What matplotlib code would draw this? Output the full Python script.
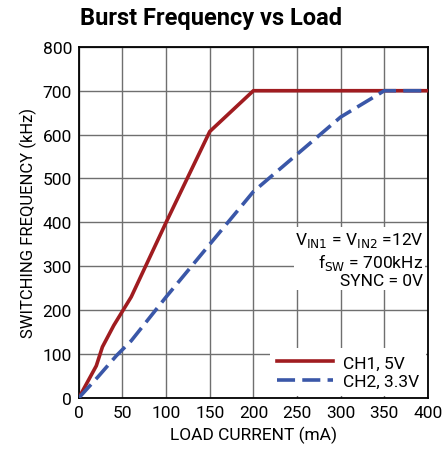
import numpy as np
import matplotlib.pyplot as plt

plt.rcParams['font.family'] = ['Roboto', 'DejaVu Sans']

# data
ch1_x = [0, 20, 27, 40, 60, 100, 150, 200, 400]
ch1_y = [0, 73, 116, 165, 230, 400, 607, 700, 700]
ch2_x = [0, 22, 43, 60, 100, 150, 200, 250, 300, 350, 400]
ch2_y = [0, 48, 96, 130, 230, 350, 470, 555, 640, 700, 700]

red = "#a01c20"
blue = "#3a57a8"

fig = plt.figure(figsize=(4.43, 4.6), dpi=100)
ax = fig.add_axes([0.178, 0.133, 0.788, 0.763])

ax.plot(ch1_x, ch1_y, color=red, lw=2.6, label="CH1, 5V", zorder=3)
ax.plot(ch2_x, ch2_y, color=blue, lw=2.6, dashes=(5, 2), label="CH2, 3.3V", zorder=3)

ax.set_xlim(0, 400)
ax.set_ylim(0, 800)
ax.set_xticks(np.arange(0, 401, 50))
ax.set_yticks(np.arange(0, 801, 100))
ax.grid(True, color="#6f6f6f", lw=1)
ax.tick_params(length=0, labelsize=12.5, pad=5)
for s in ax.spines.values():
    s.set_linewidth(1.3)

ax.set_xlabel("LOAD CURRENT (mA)", fontsize=12.5)
ax.set_ylabel("SWITCHING FREQUENCY (kHz)", fontsize=12)
fig.text(0.18, 0.945, "Burst Frequency vs Load", fontsize=17, fontweight="bold")

ax.text(395, 250, "V$_{\\rm IN1}$ = V$_{\\rm IN2}$ =12V\nf$_{\\rm SW}$ = 700kHz\nSYNC = 0V",
        ha="right", va="bottom", fontsize=12.5, linespacing=1.1,
        bbox=dict(facecolor="white", edgecolor="none", pad=1), zorder=4)

leg = ax.legend(loc="lower right", frameon=True, fontsize=12.5, handlelength=3.2,
                borderaxespad=0.1, handletextpad=0.6, labelspacing=0.2)
leg.get_frame().set_edgecolor("none")
leg.get_frame().set_alpha(1)

fig.savefig("out.png", dpi=100)
